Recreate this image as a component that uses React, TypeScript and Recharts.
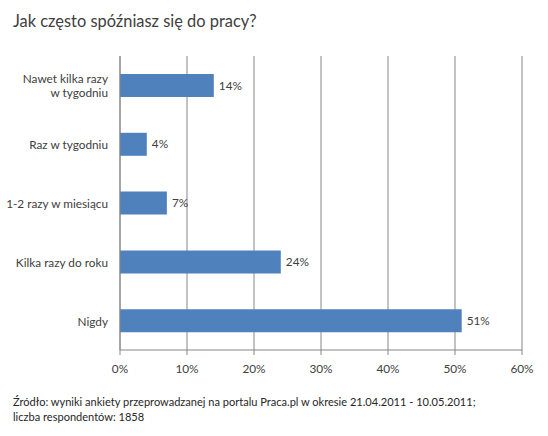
import React from "react";
import {
  BarChart,
  Bar,
  XAxis,
  YAxis,
  CartesianGrid,
  LabelList,
} from "recharts";

const categories = [
  "Nawet kilka razy\nw tygodniu",
  "Raz w tygodniu",
  "1-2 razy w miesiącu",
  "Kilka razy do roku",
  "Nigdy",
];
const shares = [14, 4, 7, 24, 51];
const xTicks = [0, 10, 20, 30, 40, 50, 60];
const bandEdges = [0, 1, 2, 3, 4, 5];

const title = "Jak często spóźniasz się do pracy?";
const sourceLines = [
  "Źródło: wyniki ankiety przeprowadzanej na portalu Praca.pl w okresie 21.04.2011 - 10.05.2011;",
  "liczba respondentów: 1858",
];

const data = categories.map((name, i) => ({ name, value: shares[i] }));

const FONT = "Lato, 'Open Sans', sans-serif";
const AXIS = "#868686";
const TEXT = "#404040";
const LABEL_SIZE = 11.8;

function CategoryTick(props: any) {
  const { x, y, payload } = props;
  const lines = String(payload.value).split("\n");
  const lh = 14;
  const start = y - ((lines.length - 1) * lh) / 2;
  return (
    <text
      x={x}
      y={start}
      textAnchor="end"
      dominantBaseline="central"
      fill={TEXT}
      fontSize={LABEL_SIZE}
      fontFamily={FONT}
    >
      {lines.map((l, i) => (
        <tspan key={i} x={x} dy={i === 0 ? 0 : lh}>
          {l}
        </tspan>
      ))}
    </text>
  );
}

export default function App() {
  return (
    <div
      style={{
        position: "absolute",
        left: 0,
        top: 0,
        width: 548,
        height: 436,
        background: "#fff",
      }}
    >
      <BarChart
        width={548}
        height={436}
        data={data}
        layout="vertical"
        margin={{ top: 56, right: 26, bottom: 56, left: 0 }}
      >
        <CartesianGrid
          yAxisId="cat"
          horizontal={false}
          vertical={true}
          stroke={AXIS}
          strokeWidth={1}
        />
        <XAxis
          type="number"
          domain={[0, 60]}
          ticks={xTicks}
          interval={0}
          height={30}
          tickFormatter={(v) => `${v}%`}
          tickSize={5}
          tickMargin={10}
          axisLine={{ stroke: AXIS }}
          tickLine={{ stroke: AXIS }}
          tick={{ fill: TEXT, fontSize: LABEL_SIZE, fontFamily: FONT }}
        />
        <YAxis
          yAxisId="edge"
          type="number"
          domain={[0, 5]}
          ticks={bandEdges}
          interval={0}
          width={0}
          tick={false}
          tickSize={5}
          axisLine={false}
          tickLine={{ stroke: AXIS }}
        />
        <YAxis
          yAxisId="cat"
          type="category"
          dataKey="name"
          width={120}
          tickSize={5}
          tickMargin={7}
          tickLine={false}
          axisLine={{ stroke: AXIS }}
          tick={<CategoryTick />}
          interval={0}
        />
        <Bar
          yAxisId="cat"
          dataKey="value"
          fill="#4F81BD"
          barSize={23}
          isAnimationActive={false}
        >
          <LabelList
            dataKey="value"
            position="right"
            offset={5}
            formatter={(v: any) => `${v}%`}
            fill={TEXT}
            fontSize={LABEL_SIZE}
            fontFamily={FONT}
          />
        </Bar>
      </BarChart>
      <svg
        width={548}
        height={436}
        style={{ position: "absolute", left: 0, top: 0, pointerEvents: "none" }}
      >
        <text x={13} y={27} fontSize={16.4} fill={TEXT} fontFamily={FONT}>
          {title}
        </text>
        {sourceLines.map((l, i) => (
          <text
            key={i}
            x={13}
            y={406 + i * 15}
            fontSize={11.05}
            fill="#262626"
            fontFamily={FONT}
          >
            {l}
          </text>
        ))}
      </svg>
    </div>
  );
}
